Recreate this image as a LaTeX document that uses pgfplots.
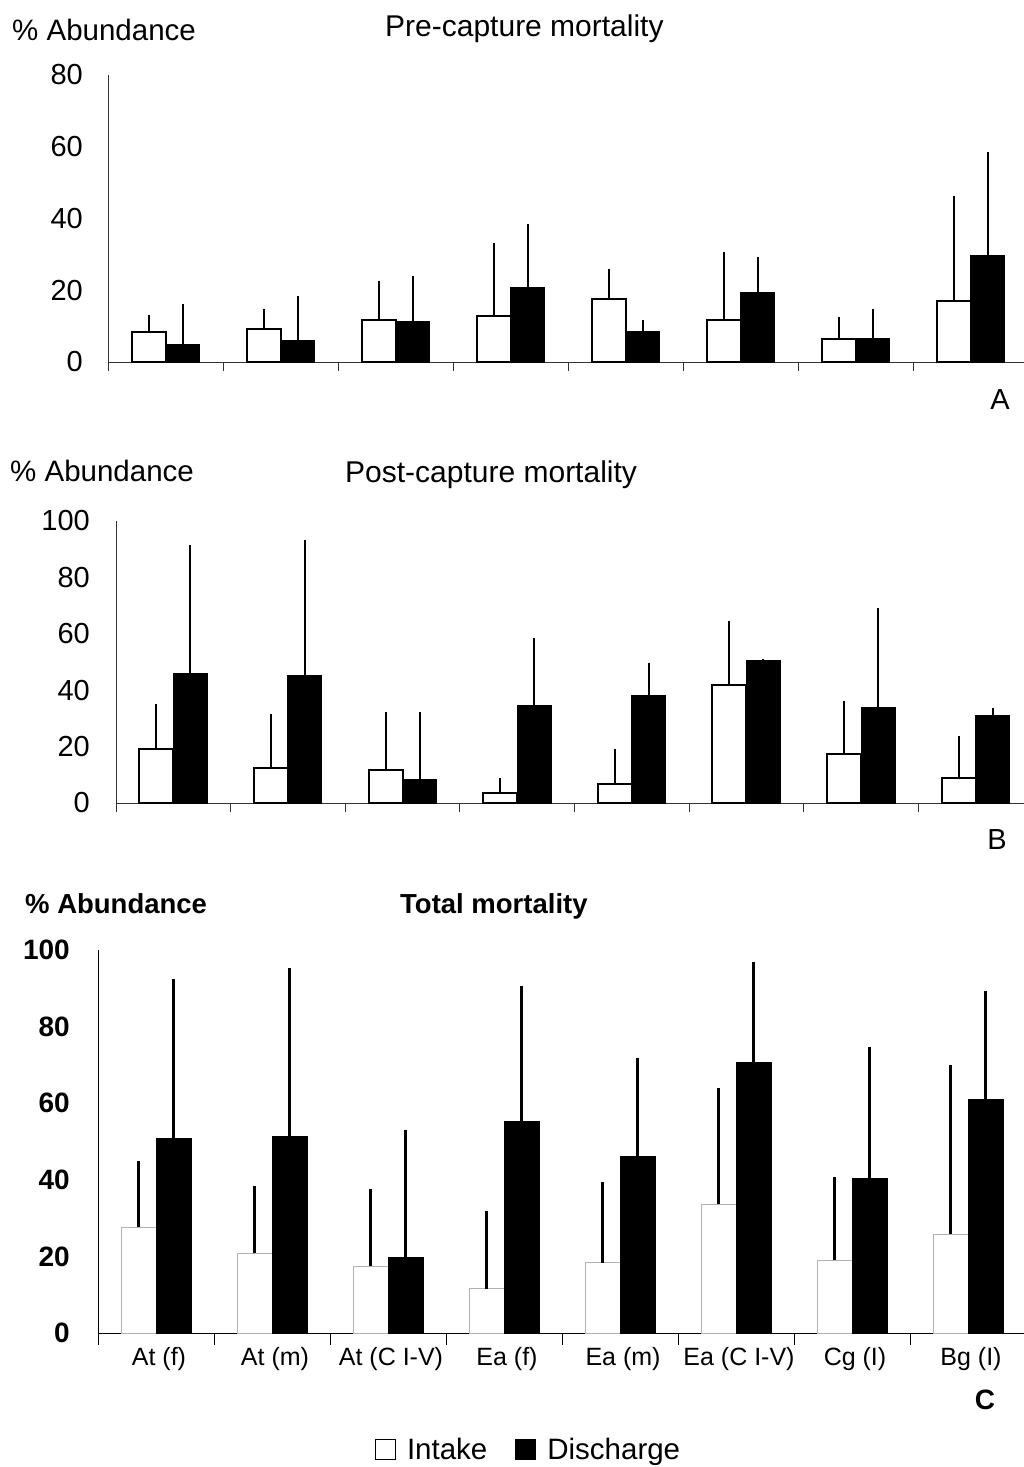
\documentclass[border=0pt]{standalone}
\usepackage{pgfplots}
\usepackage{pgfplotstable}
\pgfplotsset{compat=1.18}
\usepackage{fontspec}
\setmainfont{Liberation Sans}

\pgfplotstableread{
x y e
0 8.4 4.8
1 9.2 5.6
2 11.7 11.0
3 12.7 20.5
4 17.5 8.5
5 11.7 19.0
6 6.4 6.1
7 17.0 29.3
}\Aint
\pgfplotstableread{
x y e
0 5.0 11.3
1 6.0 12.5
2 11.3 12.8
3 20.7 17.8
4 8.5 3.1
5 19.3 10.1
6 6.6 8.2
7 29.7 28.8
}\Adis
\pgfplotstableread{
x y e
0 19.0 16.1
1 12.3 19.3
2 11.6 20.6
3 3.5 5.3
4 6.7 12.3
5 41.7 22.9
6 17.5 18.7
7 9.0 14.6
}\Bint
\pgfplotstableread{
x y e
0 46.0 45.4
1 45.3 48.0
2 8.3 23.9
3 34.6 24.0
4 38.0 11.8
5 50.5 0.5
6 33.8 35.3
7 31.1 2.6
}\Bdis
\pgfplotstableread{
x y e
0 27.6 17.2
1 20.8 17.5
2 17.4 20.2
3 11.6 20.3
4 18.3 21.1
5 33.6 30.4
6 19.0 21.8
7 25.8 44.2
}\Cint
\pgfplotstableread{
x y e
0 50.7 41.7
1 51.4 43.9
2 19.7 33.4
3 55.2 35.3
4 46.2 25.7
5 70.7 26.1
6 40.4 34.4
7 61.1 28.1
}\Cdis

\pgfplotsset{
  panel/.style={
    scale only axis,
    anchor=south west,
    ymin=0, xmin=-0.5, xmax=7.5,
    enlargelimits=false,
    axis lines*=left,
    axis line style={-, line width=1pt, black!80},
    xtick={-0.5,0.5,...,6.5},
    xticklabels={},
    tick align=outside,
    major tick length=9pt,
    xtick style={line width=1pt, black!80},
    ytick style={draw=none},
    /pgf/number format/assume math mode=true,
    yticklabel style={anchor=east, inner sep=0pt, font=\fontsize{29}{30}\selectfont},
    ybar=0pt,
    bar width=34pt,
    clip=false,
  },
}

\begin{document}
\begin{tikzpicture}[x=1pt,y=1pt]
\useasboundingbox (0pt,0pt) rectangle (1023pt,-1467pt);

% ---------- Panel A ----------
\begin{axis}[panel, at={(108pt,-362pt)}, width=920pt, height=287pt,
  ymax=80, ytick={0,20,...,80},
  yticklabel style={xshift=-16pt}]
\addplot[bar shift=-17pt, draw=black, fill=white, line width=2pt,
  error bars/.cd, y dir=plus, y explicit, error mark=none,
  error bar style={line width=2pt, black}]
  table[x=x, y=y, y error=e] {\Aint};
\addplot[bar shift=17pt, draw=black, fill=black, line width=1pt,
  error bars/.cd, y dir=plus, y explicit, error mark=none,
  error bar style={line width=2pt, black}]
  table[x=x, y=y, y error=e] {\Adis};
\end{axis}
\node[anchor=base west, inner sep=0pt, font=\fontsize{29.5}{30}\selectfont] at (12pt,-40pt) {\% Abundance};
\node[anchor=base west, inner sep=0pt, font=\fontsize{30}{30}\selectfont] at (385pt,-36pt) {Pre-capture mortality};
\node[inner sep=0pt, font=\fontsize{29}{30}\selectfont] at (1000pt,-400pt) {A};

% ---------- Panel B ----------
\begin{axis}[panel, at={(116pt,-803pt)}, width=917pt, height=282pt,
  ymax=100, ytick={0,20,...,100},
  yticklabel style={xshift=-17pt}]
\addplot[bar shift=-17pt, draw=black, fill=white, line width=2pt,
  error bars/.cd, y dir=plus, y explicit, error mark=none,
  error bar style={line width=2pt, black}]
  table[x=x, y=y, y error=e] {\Bint};
\addplot[bar shift=17pt, draw=black, fill=black, line width=1pt,
  error bars/.cd, y dir=plus, y explicit, error mark=none,
  error bar style={line width=2pt, black}]
  table[x=x, y=y, y error=e] {\Bdis};
\end{axis}
\node[anchor=base west, inner sep=0pt, font=\fontsize{29.5}{30}\selectfont] at (10pt,-481pt) {\% Abundance};
\node[anchor=base west, inner sep=0pt, font=\fontsize{30}{30}\selectfont] at (345pt,-482pt) {Post-capture mortality};
\node[inner sep=0pt, font=\fontsize{29}{30}\selectfont] at (997pt,-840pt) {B};

% ---------- Panel C ----------
\begin{axis}[panel, at={(98pt,-1333pt)}, width=928pt, height=383pt,
  ymax=100, ytick={0,20,...,100},
  bar width=35pt,
  major tick length=12pt,
  axis line style={-, line width=1pt, black},
  xtick style={line width=1pt, black},
  yticklabel style={xshift=-16pt, font=\fontsize{28}{30}\selectfont\bfseries},
  extra x ticks={0,1,...,7},
  extra x tick labels={At (f),At (m),At (C I-V),Ea (f),Ea (m),Ea (C I-V),Cg (I),Bg (I)},
  extra x tick style={major tick length=0pt,
    xticklabel style={anchor=north, inner sep=0pt, yshift=-14pt, xshift=3pt, font=\fontsize{25}{28}\selectfont}},
  legend image code/.code={\draw[#1] (0pt,-10pt) rectangle (20pt,10pt); \path (29pt,0pt);},
  legend style={at={(axis description cs:0.464,-0.305)}, anchor=center, draw=none,
    legend columns=2, font=\fontsize{29.5}{30}\selectfont,
    /tikz/every even column/.append style={column sep=26pt}},
  ]
\addplot[forget plot, bar shift=-17.5pt, draw=black!30, fill=white, line width=1pt,
  error bars/.cd, y dir=plus, y explicit, error mark=none,
  error bar style={line width=3pt, black}]
  table[x=x, y=y, y error=e] {\Cint};
\addplot[forget plot, bar shift=17.5pt, draw=black, fill=black, line width=1pt,
  error bars/.cd, y dir=plus, y explicit, error mark=none,
  error bar style={line width=3pt, black}]
  table[x=x, y=y, y error=e] {\Cdis};
\addlegendimage{draw=black, fill=white, line width=1pt}
\addlegendentry{Intake}
\addlegendimage{draw=black, fill=black, line width=1pt}
\addlegendentry{Discharge}
\end{axis}
\node[anchor=base west, inner sep=0pt, font=\fontsize{27.5}{30}\selectfont\bfseries] at (25pt,-913pt) {\% Abundance};
\node[anchor=base west, inner sep=0pt, font=\fontsize{27.5}{30}\selectfont\bfseries] at (400pt,-913pt) {Total mortality};
\node[inner sep=0pt, font=\fontsize{28}{30}\selectfont\bfseries] at (985pt,-1400pt) {C};
\end{tikzpicture}
\end{document}
